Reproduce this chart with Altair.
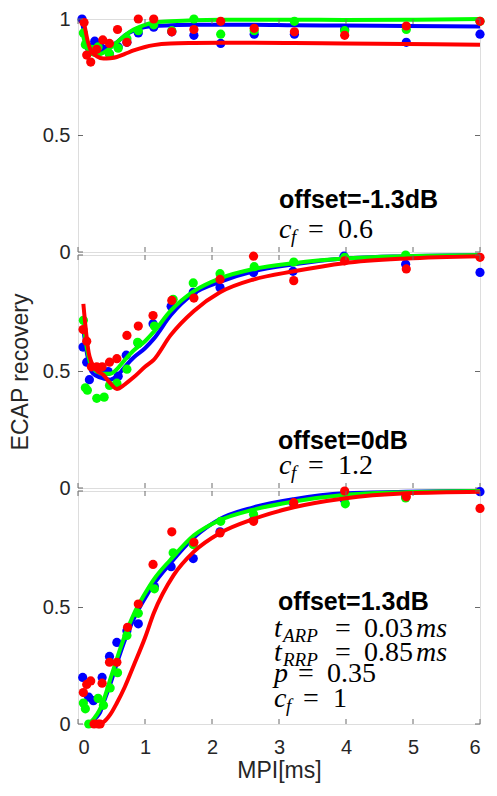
import altair as alt
import pandas as pd

W, H = 402, 233
X_TICKS = [0, 1, 2, 3, 4, 5, 6]
Y_TICKS = [0, 0.5, 1]
SERIES = ["blue", "green", "red"]
HEX = ["#0000ff", "#00ff00", "#ff0000"]
FRAME = "#6a6a6a"
TXT = "#262626"

# ---------------- panel 1: offset=-1.3dB ----------------
P1_BX = [0.06, 0.16, 0.25, 0.35, 0.47, 0.6, 0.73, 0.9, 1.13, 1.4, 1.73, 2.13, 2.63, 3.23, 3.98, 4.9, 6.0]
P1_BY = [1.0, 0.88, 0.905, 0.875, 0.85, 0.88, 0.9, 0.94, 0.965, 0.945, 0.93, 0.895, 0.935, 0.935, 0.955, 0.9, 0.935]
P1_GX = [0.08, 0.11, 0.2, 0.3, 0.47, 0.6, 0.73, 0.9, 1.13, 1.4, 1.73, 2.13, 2.63, 3.23, 3.98, 4.9, 6.0]
P1_GY = [0.94, 0.89, 0.87, 0.88, 0.85, 0.875, 0.915, 0.95, 0.975, 0.95, 1.0, 0.935, 0.95, 0.99, 0.95, 0.955, 0.99]
P1_RX = [0.09, 0.13, 0.19, 0.28, 0.37, 0.47, 0.59, 0.73, 0.9, 1.13, 1.4, 1.73, 2.13, 2.63, 3.23, 3.98, 4.9, 6.0]
P1_RY = [0.985, 0.845, 0.815, 0.87, 0.91, 0.895, 0.955, 0.9, 1.0, 1.0, 0.945, 0.955, 0.99, 0.96, 0.945, 0.93, 0.97, 0.99]

P1_LBX = [0.06, 0.1, 0.15, 0.2, 0.28, 0.38, 0.48, 0.58, 0.7, 0.83, 1.0, 1.13, 1.38, 1.73, 2.12, 2.62, 3.22, 3.97, 4.9, 6.0]
P1_LBY = [0.99, 0.93, 0.89, 0.88, 0.875, 0.878, 0.885, 0.9, 0.93, 0.95, 0.965, 0.97, 0.973, 0.975, 0.975, 0.975, 0.973, 0.972, 0.97, 0.968]
P1_LGX = [0.06, 0.1, 0.15, 0.2, 0.28, 0.38, 0.48, 0.58, 0.7, 0.83, 1.0, 1.13, 1.38, 1.73, 2.12, 2.62, 3.22, 3.97, 4.9, 6.0]
P1_LGY = [0.95, 0.9, 0.865, 0.85, 0.845, 0.855, 0.875, 0.9, 0.93, 0.955, 0.975, 0.985, 0.99, 0.995, 0.997, 0.997, 0.997, 0.996, 0.997, 1.0]
P1_LRX = [0.09, 0.15, 0.2, 0.28, 0.38, 0.48, 0.58, 0.7, 0.83, 1.0, 1.13, 1.38, 1.73, 2.12, 2.62, 3.22, 3.97, 4.9, 6.0]
P1_LRY = [0.985, 0.9, 0.86, 0.84, 0.83, 0.832, 0.837, 0.85, 0.865, 0.88, 0.888, 0.895, 0.897, 0.898, 0.898, 0.897, 0.895, 0.893, 0.89]

# ---------------- panel 2: offset=0dB ----------------
P2_BX = [0.075, 0.13, 0.17, 0.33, 0.45, 0.6, 0.72, 0.9, 1.12, 1.39, 1.72, 2.12, 2.62, 3.21, 3.97, 4.89, 6.0]
P2_BY = [0.605, 0.54, 0.465, 0.5, 0.5, 0.48, 0.57, 0.62, 0.705, 0.78, 0.84, 0.86, 0.925, 0.93, 0.995, 0.96, 0.925]
P2_GX = [0.08, 0.11, 0.14, 0.28, 0.39, 0.47, 0.58, 0.73, 0.89, 1.14, 1.42, 1.72, 2.12, 2.63, 3.22, 3.98, 4.89]
P2_GY = [0.72, 0.43, 0.42, 0.385, 0.39, 0.44, 0.45, 0.51, 0.625, 0.695, 0.81, 0.88, 0.92, 0.95, 0.97, 0.99, 1.0]
P2_RX = [0.075, 0.13, 0.2, 0.28, 0.36, 0.47, 0.58, 0.73, 0.9, 1.12, 1.4, 1.73, 2.12, 2.62, 3.22, 3.98, 4.9, 6.0]
P2_RY = [0.68, 0.63, 0.52, 0.52, 0.52, 0.54, 0.555, 0.655, 0.695, 0.74, 0.805, 0.815, 0.895, 0.995, 0.89, 0.975, 0.94, 0.99]

P2_LBX = [0.08, 0.12, 0.16, 0.2, 0.28, 0.38, 0.48, 0.58, 0.7, 0.83, 1.0, 1.13, 1.38, 1.73, 2.12, 2.62, 3.22, 3.97, 4.9, 6.0]
P2_LBY = [0.68, 0.6, 0.54, 0.5, 0.48, 0.47, 0.465, 0.48, 0.52, 0.56, 0.6, 0.64, 0.74, 0.835, 0.885, 0.93, 0.96, 0.985, 0.995, 1.0]
P2_LGX = [0.08, 0.12, 0.16, 0.2, 0.28, 0.38, 0.48, 0.58, 0.7, 0.83, 1.0, 1.13, 1.38, 1.73, 2.12, 2.62, 3.22, 3.97, 4.9, 6.0]
P2_LGY = [0.72, 0.62, 0.56, 0.52, 0.5, 0.49, 0.49, 0.51, 0.55, 0.59, 0.63, 0.67, 0.76, 0.845, 0.9, 0.94, 0.965, 0.985, 0.995, 1.0]
P2_LRX = [0.08, 0.12, 0.16, 0.2, 0.28, 0.38, 0.48, 0.58, 0.7, 0.83, 1.0, 1.13, 1.38, 1.73, 2.12, 2.62, 3.22, 3.97, 4.9, 6.0]
P2_LRY = [0.79, 0.67, 0.58, 0.54, 0.505, 0.485, 0.45, 0.425, 0.445, 0.475, 0.52, 0.55, 0.655, 0.76, 0.84, 0.895, 0.93, 0.965, 0.985, 0.995]

# ---------------- panel 3: offset=1.3dB ----------------
P3_BX = [0.07, 0.16, 0.23, 0.36, 0.47, 0.58, 0.73, 0.9, 1.14, 1.39, 1.72, 2.12, 2.62, 3.21, 3.97, 4.89, 6.0]
P3_BY = [0.2, 0.115, 0.1, 0.2, 0.29, 0.35, 0.4, 0.43, 0.59, 0.675, 0.71, 0.825, 0.875, 0.95, 0.965, 0.975, 0.997]
P3_GX = [0.08, 0.11, 0.16, 0.3, 0.38, 0.48, 0.59, 0.73, 0.9, 1.14, 1.42, 1.72, 2.13, 2.62, 3.99, 4.89]
P3_GY = [0.09, 0.065, 0.0, 0.11, 0.08, 0.155, 0.22, 0.38, 0.475, 0.58, 0.735, 0.77, 0.87, 0.9, 0.945, 0.97]
P3_RX = [0.08, 0.13, 0.19, 0.24, 0.3, 0.33, 0.36, 0.47, 0.58, 0.74, 0.9, 1.12, 1.4, 1.73, 2.12, 2.62, 3.22, 3.98, 4.9, 6.0]
P3_RY = [0.135, 0.17, 0.185, 0.0, 0.0, 0.0, 0.175, 0.265, 0.265, 0.415, 0.515, 0.685, 0.825, 0.78, 0.82, 0.87, 0.95, 1.0, 0.975, 0.925]

P3_LBX = [0.13, 0.2, 0.28, 0.33, 0.38, 0.48, 0.58, 0.7, 0.83, 1.0, 1.13, 1.38, 1.73, 2.12, 2.62, 3.22, 3.97, 4.9, 6.0]
P3_LBY = [0.0, 0.01, 0.03, 0.05, 0.09, 0.17, 0.26, 0.36, 0.45, 0.54, 0.6, 0.69, 0.8, 0.88, 0.93, 0.965, 0.99, 0.997, 1.0]
P3_LGX = [0.16, 0.2, 0.28, 0.33, 0.38, 0.48, 0.58, 0.7, 0.83, 1.0, 1.13, 1.38, 1.73, 2.12, 2.62, 3.22, 3.97, 4.9, 6.0]
P3_LGY = [0.0, 0.01, 0.04, 0.065, 0.1, 0.19, 0.28, 0.38, 0.47, 0.56, 0.62, 0.705, 0.81, 0.875, 0.92, 0.955, 0.983, 0.995, 1.0]
P3_LRX = [0.26, 0.3, 0.38, 0.48, 0.58, 0.7, 0.83, 1.0, 1.13, 1.43, 1.73, 2.12, 2.62, 3.22, 3.97, 4.9, 6.0]
P3_LRY = [0.0, 0.0, 0.008, 0.04, 0.09, 0.16, 0.25, 0.37, 0.475, 0.64, 0.74, 0.82, 0.88, 0.93, 0.968, 0.99, 0.997]

OFFSET_LABELS = ["offset=-1.3dB", "offset=0dB", "offset=1.3dB"]
CF_VALUES = ["0.6", "1.2", "1"]
T_ARP = "0.03"
T_RRP = "0.85"
P_VAL = "0.35"

SANS = "Liberation Sans"
SERIF = "Liberation Serif"
MATH = 28
SUB = 19
BOLD = 25


def df_xy(xs, ys, s):
    return pd.DataFrame({"x": xs, "y": ys, "s": [s] * len(xs)})


def enc_x(field, labels):
    if labels:
        ax = alt.Axis(values=X_TICKS, ticks=False, domain=False, grid=False,
                      labelFontSize=20, labelPadding=13, labelColor=TXT, labelFont=SANS,
                      title="MPI[ms]", titleFontSize=23, titleFontWeight="normal",
                      titleColor=TXT, titleFont=SANS, titlePadding=2)
        return alt.X(field, scale=alt.Scale(domain=[0, 6], nice=False), axis=ax)
    ax = alt.Axis(values=X_TICKS, ticks=False, domain=False, grid=False, labels=False)
    return alt.X(field, scale=alt.Scale(domain=[0, 6], nice=False), axis=ax, title=None)


def enc_y(field, label_vals, title):
    kw = dict(values=label_vals, ticks=False, domain=False, grid=False, format="~g",
              labelFontSize=20, labelPadding=8, labelColor=TXT, labelFont=SANS)
    if title:
        ax = alt.Axis(title=title, titleFontSize=23, titleFontWeight="normal",
                      titleColor=TXT, titleFont=SANS, titlePadding=10, **kw)
        return alt.Y(field, scale=alt.Scale(domain=[0, 1], nice=False), axis=ax)
    ax = alt.Axis(**kw)
    return alt.Y(field, scale=alt.Scale(domain=[0, 1], nice=False), axis=ax, title=None)


def color_enc():
    return alt.Color("s:N", scale=alt.Scale(domain=SERIES, range=HEX), legend=None)


def txt(s, px, py, size, font, style="normal", weight="normal", baseline="alphabetic"):
    return alt.Chart(pd.DataFrame({"t": [s]})).mark_text(
        align="left", baseline=baseline, font=font, fontSize=size,
        fontStyle=style, fontWeight=weight, color="black"
    ).encode(x=alt.value(px), y=alt.value(py), text="t:N")


def panel(points, lines, xlabels, ylabel_vals, ytitle, notes):
    layers = []
    for (px, py), (lx, ly), s in zip(points, lines, SERIES):
        layers.append(alt.Chart(df_xy(px, py, s)).mark_circle(size=85, opacity=1).encode(
            x=enc_x("x:Q", xlabels), y=enc_y("y:Q", ylabel_vals, ytitle), color=color_enc()))
        layers.append(alt.Chart(df_xy(lx, ly, s)).mark_line(strokeWidth=4, interpolate="monotone").encode(
            x=enc_x("x:Q", xlabels), y=enc_y("y:Q", ylabel_vals, ytitle), color=color_enc()))
    xt = pd.DataFrame({"t": X_TICKS})
    yt = pd.DataFrame({"t": Y_TICKS})
    layers.append(alt.Chart(xt).mark_rule(color=FRAME, strokeWidth=1).encode(
        x=enc_x("t:Q", xlabels), y=alt.value(H), y2=alt.value(H - 5)))
    layers.append(alt.Chart(xt).mark_rule(color=FRAME, strokeWidth=1).encode(
        x=enc_x("t:Q", xlabels), y=alt.value(0), y2=alt.value(5)))
    layers.append(alt.Chart(yt).mark_rule(color=FRAME, strokeWidth=1).encode(
        y=enc_y("t:Q", ylabel_vals, ytitle), x=alt.value(0), x2=alt.value(5)))
    layers.append(alt.Chart(yt).mark_rule(color=FRAME, strokeWidth=1).encode(
        y=enc_y("t:Q", ylabel_vals, ytitle), x=alt.value(W), x2=alt.value(W - 5)))
    layers.extend(notes)
    return alt.layer(*layers).properties(width=W, height=H)


def cf_line(val, px, py):
    return [
        txt("c", px, py, MATH, SERIF, style="italic"),
        txt("f", px + 12, py + 5, SUB, SERIF, style="italic"),
        txt("=", px + 29, py, MATH, SERIF),
        txt(val, px + 59, py, MATH, SERIF),
    ]


def t_line(sub, val, py):
    return [
        txt("t", 196, py, MATH, SERIF, style="italic"),
        txt(sub, 205, py + 5, SUB, SERIF, style="italic"),
        txt("=", 257, py, MATH, SERIF),
        txt(val, 286, py, MATH, SERIF),
        txt("ms", 338, py, MATH, SERIF, style="italic"),
    ]


notes1 = [txt(OFFSET_LABELS[0], 201, 181, BOLD, SANS, weight="bold", baseline="middle")] + cf_line(CF_VALUES[0], 201, 219)
notes2 = [txt(OFFSET_LABELS[1], 200, 186, BOLD, SANS, weight="bold", baseline="middle")] + cf_line(CF_VALUES[1], 201, 219)
notes3 = (
    [txt(OFFSET_LABELS[2], 200, 111, BOLD, SANS, weight="bold", baseline="middle")]
    + t_line("ARP", T_ARP, 146)
    + t_line("RRP", T_RRP, 170)
    + [
        txt("p", 196, 191, MATH, SERIF, style="italic"),
        txt("=", 220, 191, MATH, SERIF),
        txt(P_VAL, 249, 191, MATH, SERIF),
    ]
    + cf_line(CF_VALUES[2], 196, 216)
)

p1 = panel([(P1_BX, P1_BY), (P1_GX, P1_GY), (P1_RX, P1_RY)],
           [(P1_LBX, P1_LBY), (P1_LGX, P1_LGY), (P1_LRX, P1_LRY)],
           False, [0, 0.5, 1], None, notes1)
p2 = panel([(P2_BX, P2_BY), (P2_GX, P2_GY), (P2_RX, P2_RY)],
           [(P2_LBX, P2_LBY), (P2_LGX, P2_LGY), (P2_LRX, P2_LRY)],
           False, [0, 0.5], "ECAP recovery", notes2)
p3 = panel([(P3_BX, P3_BY), (P3_GX, P3_GY), (P3_RX, P3_RY)],
           [(P3_LBX, P3_LBY), (P3_LGX, P3_LGY), (P3_LRX, P3_LRY)],
           True, [0, 0.5], None, notes3)

chart = alt.vconcat(p1, p2, p3, spacing=3, bounds="flush").properties(
    padding={"top": 0, "left": 0, "right": 0, "bottom": 0}
).configure_view(
    stroke=FRAME, strokeWidth=1
).configure(background="white")

chart.save("out.html", embed_options={"renderer": "svg", "actions": False})
